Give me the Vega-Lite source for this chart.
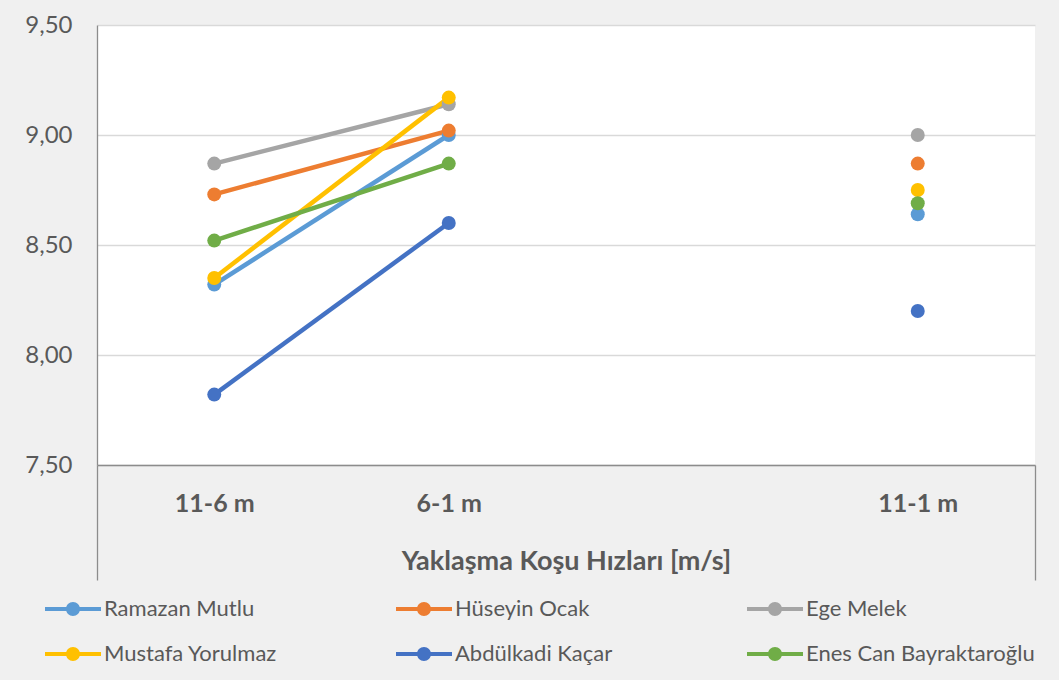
{
  "$schema": "https://vega.github.io/schema/vega-lite/v6.json",
  "width": 938,
  "height": 440,
  "autosize": {"type": "none"},
  "padding": {"left": 97, "top": 25, "right": 24, "bottom": 215},
  "background": "#F0F0F0",
  "config": {"view": {"fill": "white", "stroke": null}, "font": "Lato"},
  "data": {
    "values": [
      {"sporcu": "Ramazan Mutlu", "mesafe": "11-6 m", "hiz": 8.32},
      {"sporcu": "Ramazan Mutlu", "mesafe": "6-1 m", "hiz": 9.00},
      {"sporcu": "Ramazan Mutlu", "mesafe": "11-1 m", "hiz": 8.64},
      {"sporcu": "Hüseyin Ocak", "mesafe": "11-6 m", "hiz": 8.73},
      {"sporcu": "Hüseyin Ocak", "mesafe": "6-1 m", "hiz": 9.02},
      {"sporcu": "Hüseyin Ocak", "mesafe": "11-1 m", "hiz": 8.87},
      {"sporcu": "Ege Melek", "mesafe": "11-6 m", "hiz": 8.87},
      {"sporcu": "Ege Melek", "mesafe": "6-1 m", "hiz": 9.14},
      {"sporcu": "Ege Melek", "mesafe": "11-1 m", "hiz": 9.00},
      {"sporcu": "Mustafa Yorulmaz", "mesafe": "11-6 m", "hiz": 8.35},
      {"sporcu": "Mustafa Yorulmaz", "mesafe": "6-1 m", "hiz": 9.17},
      {"sporcu": "Mustafa Yorulmaz", "mesafe": "11-1 m", "hiz": 8.75},
      {"sporcu": "Abdülkadi Kaçar", "mesafe": "11-6 m", "hiz": 7.82},
      {"sporcu": "Abdülkadi Kaçar", "mesafe": "6-1 m", "hiz": 8.60},
      {"sporcu": "Abdülkadi Kaçar", "mesafe": "11-1 m", "hiz": 8.20},
      {"sporcu": "Enes Can Bayraktaroğlu", "mesafe": "11-6 m", "hiz": 8.52},
      {"sporcu": "Enes Can Bayraktaroğlu", "mesafe": "6-1 m", "hiz": 8.87},
      {"sporcu": "Enes Can Bayraktaroğlu", "mesafe": "11-1 m", "hiz": 8.69}
    ]
  },
  "encoding": {
    "x": {
      "field": "mesafe",
      "type": "nominal",
      "scale": {"type": "band", "domain": ["11-6 m", "6-1 m", " ", "11-1 m"], "paddingInner": 0, "paddingOuter": 0},
      "axis": {
        "title": "Yaklaşma Koşu Hızları [m/s]",
        "titleFontSize": 27,
        "titleFontWeight": "bold",
        "titleColor": "#595959",
        "titleY": 96,
        "titleBaseline": "middle",
        "labelFontSize": 25,
        "labelFontWeight": "bold",
        "labelColor": "#595959",
        "labelAngle": 0,
        "labelPadding": -89,
        "domainColor": "#8C8C8C",
        "domainWidth": 1.3,
        "tickBand": "extent",
        "tickSize": 115,
        "tickWidth": 1.3,
        "tickColor": "#8C8C8C",
        "tickOpacity": {"condition": {"test": "datum.extra || datum.value == '11-1 m'", "value": 1}, "value": 0},
        "grid": false
      }
    },
    "y": {
      "field": "hiz",
      "type": "quantitative",
      "scale": {"domain": [7.5, 9.5], "nice": false, "zero": false},
      "axis": {
        "title": null,
        "values": [7.5, 8, 8.5, 9, 9.5],
        "labelExpr": "replace(format(datum.value, '.2f'), '.', ',')",
        "labelFontSize": 24,
        "labelColor": "#595959",
        "labelPadding": 25,
        "ticks": false,
        "domainColor": "#8C8C8C",
        "domainWidth": 1.3,
        "gridColor": "#D9D9D9",
        "gridWidth": 1.3
      }
    },
    "color": {
      "field": "sporcu",
      "type": "nominal",
      "scale": {
        "domain": ["Ramazan Mutlu", "Hüseyin Ocak", "Ege Melek", "Mustafa Yorulmaz", "Abdülkadi Kaçar", "Enes Can Bayraktaroğlu"],
        "range": ["#5B9BD5", "#ED7D31", "#A5A5A5", "#FFC000", "#4472C4", "#70AD47"]
      },
      "legend": {
        "orient": "none",
        "legendX": -52,
        "legendY": 556,
        "direction": "horizontal",
        "columns": 3,
        "title": null,
        "symbolType": "M-1,-0.07H-0.2V0.07H-1Z M0.2,-0.07H1V0.07H0.2Z M-0.25,0A0.25,0.25 0 1,1 0.25,0A0.25,0.25 0 1,1 -0.25,0Z",
        "symbolSize": 3136,
        "symbolStrokeWidth": 0,
        "labelFontSize": 22,
        "labelColor": "#595959",
        "labelOffset": 3,
        "labelLimit": 400,
        "gridAlign": "all",
        "columnPadding": 63,
        "rowPadding": 6,
        "encode": {"symbols": {"update": {"fill": {"scale": "color", "field": "value"}, "opacity": {"value": 1}}}}
      }
    }
  },
  "layer": [
    {
      "transform": [{"filter": "datum.mesafe != '11-1 m'"}],
      "mark": {"type": "line", "strokeWidth": 4.5}
    },
    {
      "mark": {"type": "circle", "size": 195, "opacity": 1}
    }
  ]
}
